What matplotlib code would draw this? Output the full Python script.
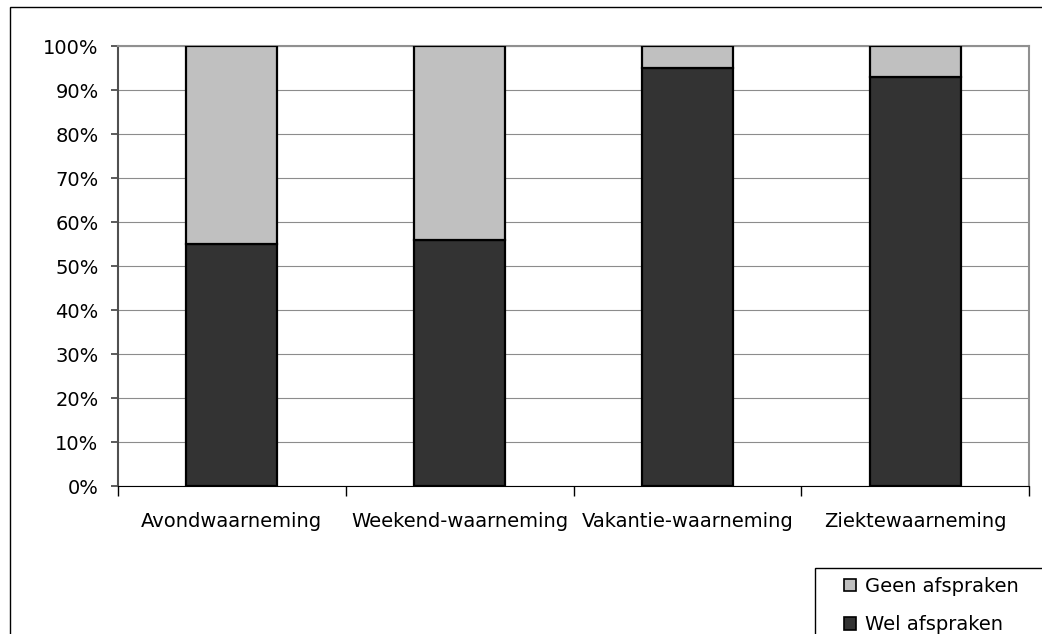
import matplotlib.pyplot as plt
import numpy as np
from matplotlib.patches import Patch, Rectangle
from matplotlib.ticker import FixedLocator, PercentFormatter

plt.rcParams['font.family'] = ['DejaVu Sans']

categories = ['Avondwaarneming', 'Weekend-waarneming', 'Vakantie-waarneming', 'Ziektewaarneming']
wel = [55, 56, 95, 93]
geen = [45, 44, 5, 7]

fig = plt.figure(figsize=(10.42, 6.34), dpi=100)
fig.patch.set_facecolor('white')

# outer chart border (runs off the right/bottom edge like the reference)
fig.patches.append(Rectangle((10 / 1042, -0.1), 1.2, 1 - 7 / 634 + 0.1,
                             transform=fig.transFigure, fill=False,
                             edgecolor='black', linewidth=1.0))

ax = fig.add_axes([118 / 1042, 1 - 486 / 634, (1029 - 118) / 1042, (486 - 46) / 634])

x = np.arange(len(categories))
ax.bar(x, wel, width=0.4, color='#333333', edgecolor='black', linewidth=1.6, zorder=3)
ax.bar(x, geen, bottom=wel, width=0.4, color='#c0c0c0', edgecolor='black', linewidth=1.6, zorder=3)

ax.set_xlim(-0.5, len(categories) - 0.5)
ax.set_ylim(0, 100)
ax.set_yticks(np.arange(0, 101, 10))
ax.yaxis.set_major_formatter(PercentFormatter(decimals=0))
ax.yaxis.grid(True, color='#8c8c8c', linewidth=0.8, zorder=0)
ax.set_axisbelow(True)

# categories labelled at centres, ticks at boundaries
ax.set_xticks(x)
ax.set_xticklabels(categories)
ax.tick_params(axis='x', which='major', length=0, pad=19, labelsize=14)
ax.xaxis.set_minor_locator(FixedLocator(np.arange(-0.5, len(categories), 1)))
ax.tick_params(axis='x', which='minor', length=7, width=1.0, direction='out')
ax.tick_params(axis='y', length=5, width=1.2, direction='out', pad=9, labelsize=14,
               color='#404040')

for side in ['top', 'right']:
    ax.spines[side].set_color('#909090')
    ax.spines[side].set_linewidth(1.5)
ax.spines['left'].set_color('#505050')
ax.spines['left'].set_linewidth(1.5)
ax.spines['bottom'].set_color('black')

# legend box running off the corner
fig.patches.append(Rectangle((815 / 1042, -0.1), 0.3, 1 - 568 / 634 + 0.1,
                             transform=fig.transFigure, fill=False,
                             edgecolor='black', linewidth=1.0))
handles = [Patch(facecolor='#c0c0c0', edgecolor='black', linewidth=1.2, label='Geen afspraken'),
           Patch(facecolor='#333333', edgecolor='black', linewidth=1.2, label='Wel afspraken')]
fig.legend(handles=handles, loc='upper left', bbox_to_anchor=(838 / 1042, 1 - 571 / 634),
           frameon=False, fontsize=14, handlelength=0.65, handleheight=0.65,
           handletextpad=0.45, labelspacing=1.0, borderpad=0.3, borderaxespad=0)

fig.savefig('out.png', dpi=100)
